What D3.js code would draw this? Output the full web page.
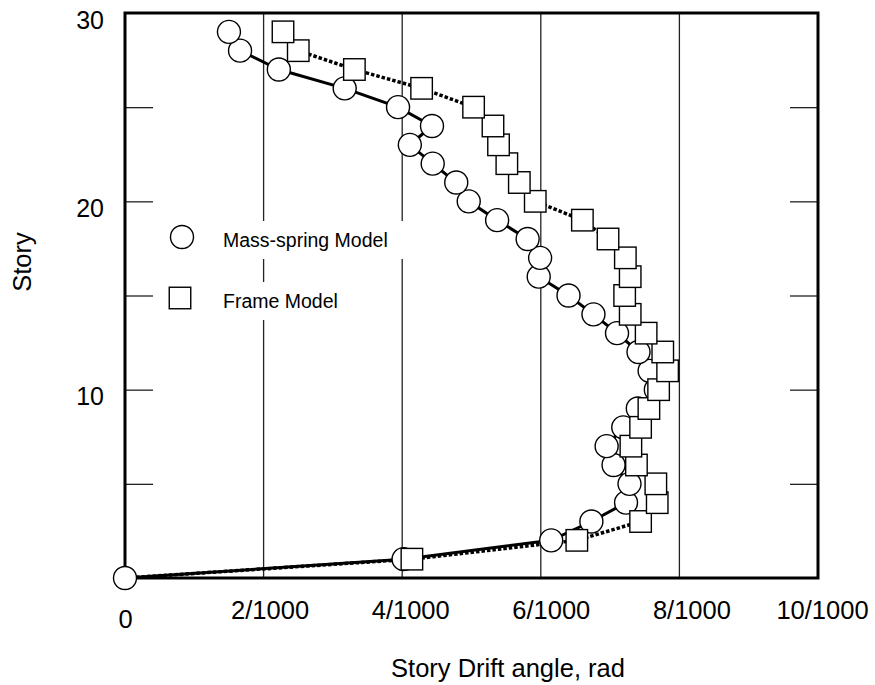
<!DOCTYPE html>
<html>
<head>
<meta charset="utf-8">
<script src="https://cdn.jsdelivr.net/npm/d3@7"></script>
<style>
  body { margin: 0; background: #fff; }
  svg { display: block; font-family: "Liberation Sans", Arial, Helvetica, sans-serif; }
</style>
</head>
<body>
<div id="chart"></div>
<script>
// story numbers (0 = ground)
const stories = [0, 1, 2, 3, 4, 5, 6, 7, 8, 9, 10, 11, 12, 13, 14, 15, 16, 17, 18, 19, 20, 21, 22, 23, 24, 25, 26, 27, 28, 29];
// drift angle in 1/1000 rad
const massSpring = [0, 4.02, 6.15, 6.73, 7.23, 7.28, 7.05, 6.95, 7.19, 7.40, 7.66, 7.57, 7.41, 7.10, 6.76, 6.40, 5.97, 5.99, 5.81, 5.37, 4.96, 4.78, 4.44, 4.11, 4.43, 3.94, 3.17, 2.22, 1.66, 1.50];
const frameModel = [0, 4.14, 6.52, 7.44, 7.68, 7.66, 7.38, 7.30, 7.44, 7.56, 7.70, 7.83, 7.76, 7.52, 7.29, 7.21, 7.29, 7.22, 6.97, 6.60, 5.92, 5.69, 5.51, 5.39, 5.31, 5.03, 4.28, 3.31, 2.50, 2.28];
const xTicks = [0, 2, 4, 6, 8, 10];
const xTickLabels = ["0", "2/1000", "4/1000", "6/1000", "8/1000", "10/1000"];
const yLabelTicks = [10, 20, 30];
const yMinorTicks = [5, 10, 15, 20, 25];
const legendLabels = ["Mass-spring Model", "Frame Model"];

const width = 875, height = 685;
const pLeft = 125, pRight = 818, pTop = 13, pBottom = 578;

const svg = d3.select("#chart").append("svg")
  .attr("width", width)
  .attr("height", height);

const x = d3.scaleLinear().domain([0, 10]).range([pLeft, pRight]);
const y = d3.scaleLinear().domain([0, 30]).range([pBottom, pTop]);

//---------------- grid lines -----------------//
svg.append("g")
  .selectAll("line")
  .data([2, 4, 6, 8])
  .enter().append("line")
  .attr("x1", d => x(d)).attr("x2", d => x(d))
  .attr("y1", pTop).attr("y2", pBottom)
  .style("stroke", "#222")
  .style("stroke-width", 1.3);

// inner ticks, left and right
const leftTicks = d3.axisRight(y).tickValues(yMinorTicks).tickSize(28).tickFormat("");
const rightTicks = d3.axisLeft(y).tickValues(yMinorTicks).tickSize(28).tickFormat("");
svg.append("g").attr("transform", "translate(" + pLeft + ",0)").call(leftTicks)
  .call(g => g.select(".domain").remove())
  .selectAll("line").style("stroke", "#222").style("stroke-width", 1.3);
svg.append("g").attr("transform", "translate(" + pRight + ",0)").call(rightTicks)
  .call(g => g.select(".domain").remove())
  .selectAll("line").style("stroke", "#222").style("stroke-width", 1.3);

//---------------- legend boxes -----------------//
const legend = svg.append("g");
const legendY = [237, 298];
legendLabels.forEach(function (lab, i) {
  const bg = legend.append("rect").style("fill", "#fff");
  const t = legend.append("text")
    .attr("x", 223)
    .attr("y", legendY[i] + 10)
    .style("font-size", "19.5px")
    .text(lab);
  const bb = t.node().getBBox();
  // white box behind the text hides the grid lines
  bg.attr("x", bb.x - 6).attr("y", bb.y - 8)
    .attr("width", bb.width + 26).attr("height", bb.height + 16);
});

//---------------- frame -----------------//
svg.append("rect")
  .attr("x", pLeft).attr("y", pTop)
  .attr("width", pRight - pLeft).attr("height", pBottom - pTop)
  .style("fill", "none")
  .style("stroke", "#000")
  .style("stroke-width", 3);

//---------------- lines -----------------//
const msData = stories.map((s, i) => ({ story: s, v: massSpring[i] }));
const frData = stories.map((s, i) => ({ story: s, v: frameModel[i] }));

const line = d3.line().x(d => x(d.v)).y(d => y(d.story));

svg.append("path")
  .attr("d", line(frData))
  .style("fill", "none")
  .style("stroke", "#000")
  .style("stroke-width", 3.5)
  .style("stroke-dasharray", "3.5,2");

svg.append("path")
  .attr("d", line(msData))
  .style("fill", "none")
  .style("stroke", "#000")
  .style("stroke-width", 3);

//---------------- markers -----------------//
svg.append("g").selectAll("circle")
  .data(msData)
  .enter().append("circle")
  .attr("cx", d => x(d.v))
  .attr("cy", d => y(d.story))
  .attr("r", 11.5)
  .style("fill", "#fff")
  .style("stroke", "#000")
  .style("stroke-width", 1.4);

const sq = 21.5;
svg.append("g").selectAll("rect")
  .data(frData.filter(d => d.story > 0))
  .enter().append("rect")
  .attr("x", d => x(d.v) - sq / 2)
  .attr("y", d => y(d.story) - sq / 2)
  .attr("width", sq).attr("height", sq)
  .style("fill", "#fff")
  .style("stroke", "#000")
  .style("stroke-width", 1.4);

// legend markers
legend.append("circle")
  .attr("cx", 182).attr("cy", legendY[0]).attr("r", 11.5)
  .style("fill", "#fff").style("stroke", "#000").style("stroke-width", 1.4);
legend.append("rect")
  .attr("x", 180 - sq / 2).attr("y", legendY[1] - sq / 2)
  .attr("width", sq).attr("height", sq)
  .style("fill", "#fff").style("stroke", "#000").style("stroke-width", 1.4);
legend.raise();

//---------------- axis labels -----------------//
const xLabels = d3.axisBottom(x).tickValues(xTicks).tickSize(0).tickPadding(23)
  .tickFormat((d, i) => xTickLabels[i]);
svg.append("g").attr("transform", "translate(4," + pBottom + ")").call(xLabels)
  .call(g => g.select(".domain").remove())
  .selectAll("text")
  .attr("dx", d => d === 0 ? "-4px" : (d === 10 ? "0px" : (d / 2 * 2) + "px"))
  .attr("dy", d => d === 0 ? "1.05em" : "0.71em")
  .style("font-size", "25.5px")
  .style("font-family", "'Liberation Sans', Arial, sans-serif")
  .style("fill", "#000");

const yLabels = d3.axisLeft(y).tickValues(yLabelTicks).tickSize(0).tickPadding(21);
svg.append("g").attr("transform", "translate(" + pLeft + ",0)").call(yLabels)
  .call(g => g.select(".domain").remove())
  .selectAll("text")
  .attr("dy", "0.6em")
  .style("font-size", "25px")
  .style("font-family", "'Liberation Sans', Arial, sans-serif")
  .style("fill", "#000");

svg.append("text")
  .attr("x", 508)
  .attr("y", 677)
  .attr("text-anchor", "middle")
  .style("font-size", "25.5px")
  .text("Story Drift angle, rad");

svg.append("text")
  .attr("transform", "translate(31,262) rotate(-90)")
  .attr("text-anchor", "middle")
  .style("font-size", "25.5px")
  .text("Story");
</script>
</body>
</html>
